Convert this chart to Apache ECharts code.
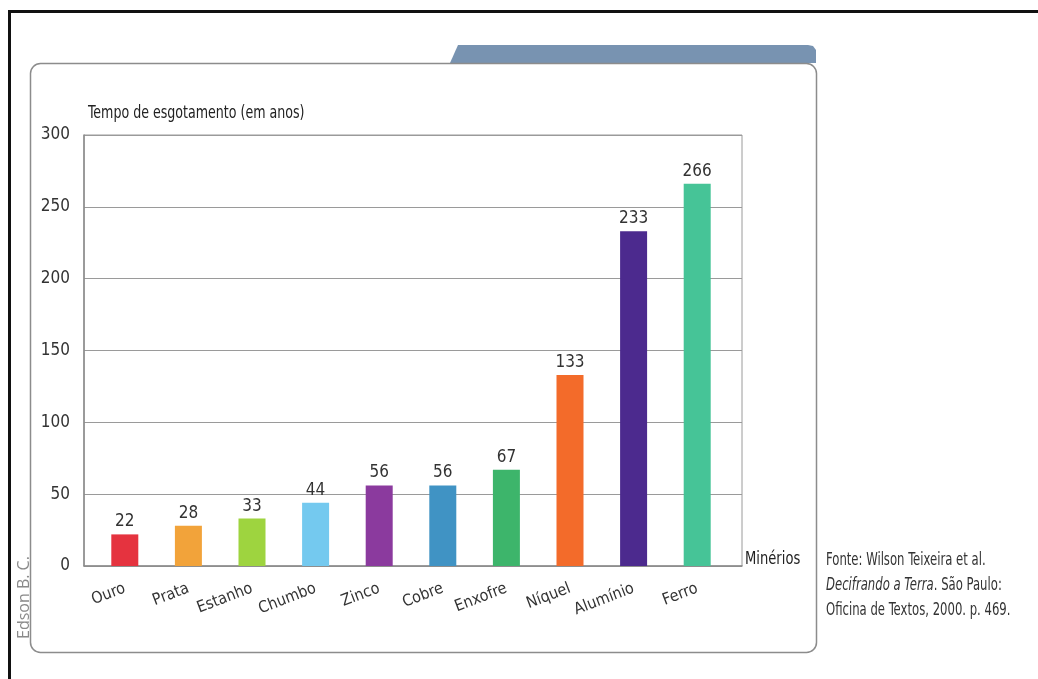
<!DOCTYPE html>
<html>
<head>
<meta charset="utf-8">
<script src="https://cdn.jsdelivr.net/npm/echarts@6/dist/echarts.min.js"></script>
<style>
html,body{margin:0;padding:0;background:#fff;}
#c{width:1038px;height:679px;}
</style>
</head>
<body>
<div id="c"></div>
<script>
// ---- data ----
var categories = ['Ouro','Prata','Estanho','Chumbo','Zinco','Cobre','Enxofre','Níquel','Alumínio','Ferro'];
var values = [22, 28, 33, 44, 56, 56, 67, 133, 233, 266];
var yTicks = [0, 50, 100, 150, 200, 250, 300];
var axisTitle = 'Tempo de esgotamento (em anos)';
var xTitle = 'Minérios';
var credit = 'Edson B. C.';
var sourceLines = ['Fonte: Wilson Teixeira et al.', 'Decifrando a Terra', '. São Paulo:', 'Oficina de Textos, 2000. p. 469.'];

// ---- styles ----
var palette = ['#e5333f','#f2a33a','#9ed43f','#74c9ef','#8b3a9e','#4093c4','#3db56b','#f36b2a','#4c2a8e','#46c497'];

// pick the narrowest available condensed face
function hasFont(name){
  var c = document.createElement('canvas').getContext('2d');
  c.font = '20px monospace';
  var a = c.measureText('Tempo de esgotamento 0123456789').width;
  c.font = "20px '" + name + "', monospace";
  var b = c.measureText('Tempo de esgotamento 0123456789').width;
  return Math.abs(a - b) > 0.5;
}
var narrow = hasFont('Liberation Sans Narrow');
var FONT = narrow ? "'Liberation Sans Narrow',sans-serif" : "'DejaVu Sans Condensed',sans-serif";
var K = narrow ? 1.2 : 1.0;     // squeeze compensation
var LBL = narrow ? 19 : 17;

var chart = echarts.init(document.getElementById('c'), null, {renderer:'canvas'});

var barData = values.map(function(v, i){
  return {value: v, itemStyle: {color: palette[i]}};
});

var option = {
  backgroundColor: '#ffffff',
  animation: false,
  grid: [
    {left: 84, width: 658, top: 135, height: 431, show: true, borderColor: '#9a9a9a', borderWidth: 1, backgroundColor: 'transparent'},
    {left: 93, width: 636, top: 135, height: 431}
  ],
  xAxis: [
    {gridIndex: 0, type: 'value', min: 0, max: 1, axisLine: {show: true, lineStyle: {color: '#8a8a8a', width: 1.5}},
     axisTick: {show: false}, axisLabel: {show: false}, splitLine: {show: false}},
    {gridIndex: 1, type: 'category', data: categories, boundaryGap: true,
     axisLine: {show: false}, axisTick: {show: false},
     axisLabel: {rotate: 21, margin: 22, fontFamily: FONT, fontSize: narrow ? 18 : 16, color: '#333', interval: 0}}
  ],
  yAxis: [
    {gridIndex: 0, type: 'value', min: yTicks[0], max: yTicks[yTicks.length-1], interval: 50,
     axisLine: {show: true, lineStyle: {color: '#8a8a8a', width: 1.5}},
     axisTick: {show: false},
     axisLabel: {margin: 14, fontFamily: FONT, fontSize: narrow ? 20 : 17, color: '#333'},
     splitLine: {show: true, lineStyle: {color: '#9a9a9a', width: 1.2}}},
    {gridIndex: 1, type: 'value', min: 0, max: 300, interval: 50, show: false}
  ],
  series: [{
    type: 'bar', xAxisIndex: 1, yAxisIndex: 1, data: barData, barWidth: 27,
    label: {show: true, position: 'top', distance: 4, fontFamily: FONT, fontSize: LBL, color: '#333'}
  }],
  graphic: [
    // outer frame
    {type: 'rect', shape: {x: 9.5, y: 11.5, width: 1040, height: 690}, style: {fill: 'none', stroke: '#111', lineWidth: 3}, z: 100},
    // tab
    {type: 'polygon', shape: {points: [[450,63],[458,45],[808,45],[813,46],[816,50],[816,63]]}, style: {fill: '#7893b1'}, z: 1},
    // chart box
    {type: 'rect', shape: {x: 30.5, y: 63.5, width: 786, height: 589, r: 10}, style: {fill: 'none', stroke: '#8c8c8c', lineWidth: 1.5}, z: 1},
    // y-axis title
    {type: 'text', x: 88, y: 113, scaleX: Math.min(1, 0.78 * K), style: {text: axisTitle, font: '18px ' + FONT, fill: '#222', verticalAlign: 'middle'}, z: 10},
    // x title
    {type: 'text', x: 745, y: 559, scaleX: Math.min(1, 0.81 * K), style: {text: xTitle, font: '18px ' + FONT, fill: '#222', verticalAlign: 'middle'}, z: 10},
    // credit
    {type: 'text', x: 16, y: 639, rotation: Math.PI/2, style: {text: credit, font: '16px "Open Sans", sans-serif', fill: '#8a8a8a', align: 'left', verticalAlign: 'top'}, z: 10},
    // source
    {type: 'text', x: 826, y: 560, scaleX: Math.min(1, 0.72 * K), style: {text: sourceLines[0], font: '18px ' + FONT, fill: '#333', verticalAlign: 'middle'}, z: 10},
    {type: 'text', x: 826, y: 585, scaleX: Math.min(1, 0.72 * K), style: {
      text: '{i|' + sourceLines[1] + '}{n|' + sourceLines[2] + '}', verticalAlign: 'middle',
      rich: {i: {font: 'italic 18px ' + FONT, fill: '#333'}, n: {font: '18px ' + FONT, fill: '#333'}}
    }, z: 10},
    {type: 'text', x: 826, y: 610, scaleX: Math.min(1, 0.72 * K), style: {text: sourceLines[3], font: '18px ' + FONT, fill: '#333', verticalAlign: 'middle'}, z: 10}
  ]
};
chart.setOption(option);
</script>
</body>
</html>
